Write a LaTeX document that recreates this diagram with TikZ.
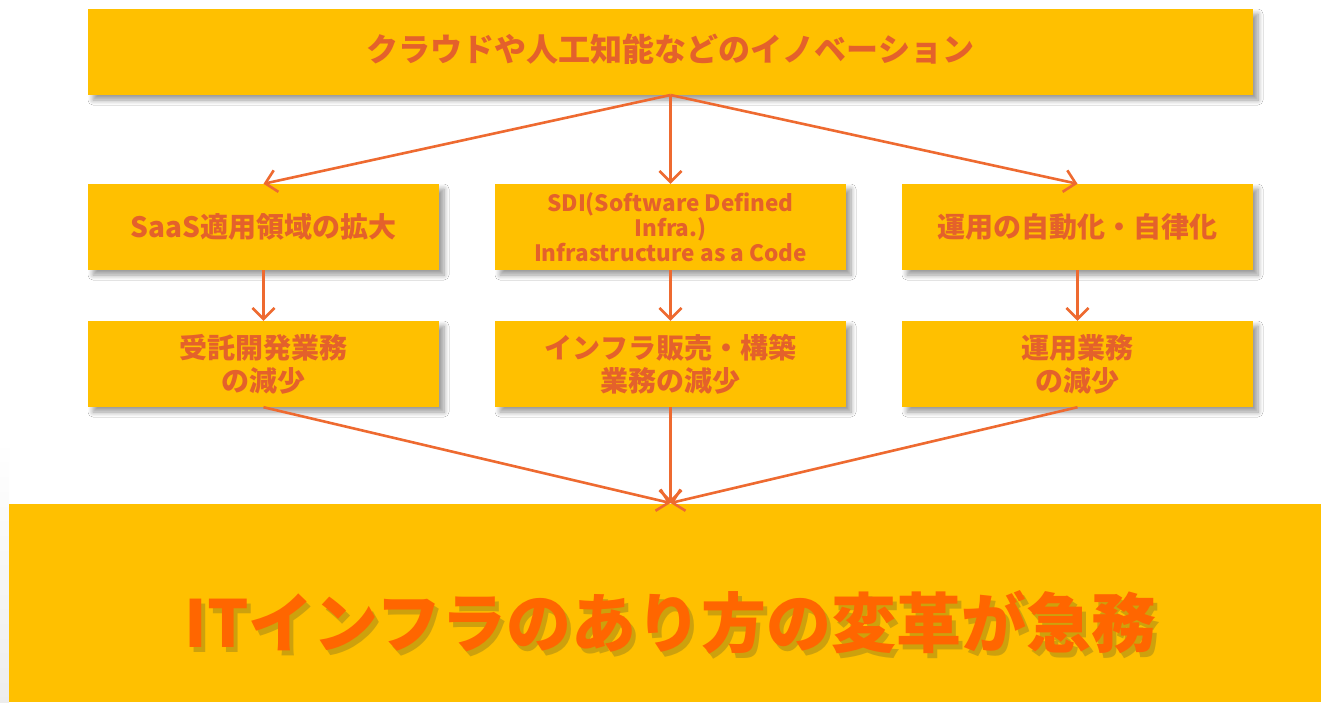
\documentclass[tikz,border=0pt]{standalone}
\usepackage{fontspec}
\setmainfont{Noto Sans CJK JP}
\usetikzlibrary{arrows.meta,shadows.blur}
\definecolor{boxfill}{HTML}{FFC000}
\definecolor{txt}{HTML}{E4612B}
\definecolor{arr}{HTML}{EE6A30}
\definecolor{bigtxt}{HTML}{FF6600}
\definecolor{bigshade}{HTML}{C08A10}
\tikzset{
  box/.style={draw=none,fill=boxfill,minimum width=351pt,minimum height=86pt,inner sep=0pt,
    blur shadow={shadow xshift=5pt,shadow yshift=-5pt,shadow blur radius=5pt,shadow blur steps=8,shadow blur extra rounding=0pt,shadow opacity=40}},
  boxtext/.style={text=txt,font=\bfseries\fontsize{28}{33}\selectfont,align=center},
  conn/.style={draw=arr,line width=2.6pt,-{Straight Barb[length=11pt,width=22pt,line width=2.6pt]}},
}
\newcommand{\bigmsg}{ITインフラのあり方の変革が急務}
\begin{document}
\begin{tikzpicture}[x=1pt,y=-1pt]
\useasboundingbox (0,0) rectangle (1321,702);
\fill[white] (0,0) rectangle (1321,702);
\shade[top color=white,bottom color=black!7] (0,440) rectangle (9,702);
% top
\node[box,minimum width=1165pt] (top) at (670.5,52) {};
\node[text=txt,font=\bfseries\fontsize{32}{36}\selectfont] (toptext) at (670.5,49) {クラウドや人工知能などのイノベーション};
% row 1
\node[box,boxtext] (a1) at (263.5,227) {SaaS適用領域の拡大};
\node[box,boxtext,font=\bfseries\fontsize{22.5}{25}\selectfont] (b1) at (670.5,227) {SDI(Software Defined\\Infra.)\\Infrastructure as a Code};
\node[box,boxtext] (c1) at (1077.5,227) {運用の自動化・自律化};
% row 2
\node[box,boxtext] (a2) at (263.5,364) {受託開発業務\\の減少};
\node[box,boxtext] (b2) at (670.5,364) {インフラ販売・構築\\業務の減少};
\node[box,boxtext] (c2) at (1077.5,364) {運用業務\\の減少};
% bottom
\fill[boxfill] (9,504) rectangle (1321,702);
\coordinate (bot) at (670.5,503);
\node[font=\bfseries\fontsize{65}{70}\selectfont] (bigtext) at (670.5,625)
  {\makebox[0pt][l]{\hspace{4pt}\raisebox{-5pt}{\textcolor{bigshade!80!yellow}{\bigmsg}}}\textcolor{bigtxt}{\bigmsg}};
% connectors
\coordinate (tb) at (670.5,95);
\draw[conn] (tb) -- (a1.north);
\draw[conn] (tb) -- (b1.north);
\draw[conn] (tb) -- (c1.north);
\draw[conn] (a1.south) -- (a2.north);
\draw[conn] (b1.south) -- (b2.north);
\draw[conn] (c1.south) -- (c2.north);
\draw[conn] (a2.south) -- (bot);
\draw[conn] (b2.south) -- (bot);
\draw[conn] (c2.south) -- (bot);
\end{tikzpicture}
\end{document}
